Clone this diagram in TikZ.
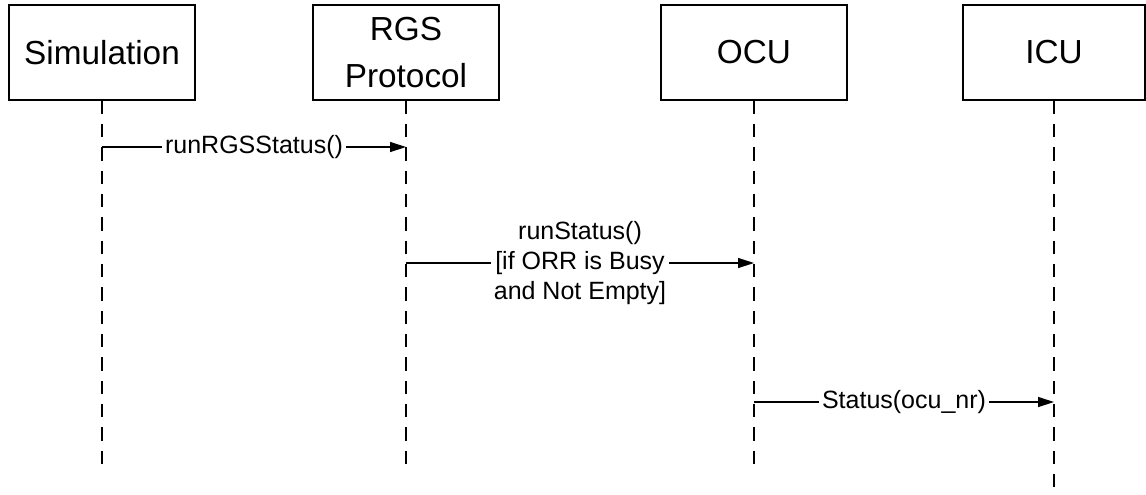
\documentclass[tikz,border=0pt]{standalone}
\usepackage{fontspec}
\setmainfont{Liberation Sans}
\usetikzlibrary{arrows.meta, positioning, calc}

\begin{document}
\begin{tikzpicture}[x=0.75pt, y=-0.75pt,
    obj/.style={draw, line width=1.2pt, minimum width=139.5pt, minimum height=71.25pt,
        inner sep=0pt, align=center, font=\fontsize{25}{35}\selectfont},
    life/.style={line width=1.2pt, dash pattern=on 10pt off 7.5pt},
    msg/.style={line width=1pt, -{Triangle[length=12pt,width=7.5pt]}},
    lbl/.style={fill=white, inner sep=2pt, align=center, font=\fontsize{18.75}{22.5}\selectfont}]
\useasboundingbox (0,0) rectangle (1146,494);

% Objects
\node[obj] (sim) at (102,52.5) {Simulation};
\node[obj] (rgs) at (406,52.5) {RGS\\Protocol};
\node[obj] (ocu) at (754,52.5) {OCU};
\node[obj, minimum width=136.5pt] (icu) at (1054,52.5) {ICU};

% Lifelines
\foreach \n/\e in {sim/473, rgs/473, ocu/473, icu/500} {
    \draw[life] (\n.south) -- (\n.south |- 0,\e);
}

% Message points
\coordinate (s1) at (sim.south |- 0,147);
\coordinate (r1) at (rgs.south |- 0,147);
\coordinate (r2) at (rgs.south |- 0,263);
\coordinate (o2) at (ocu.south |- 0,263);
\coordinate (o3) at (ocu.south |- 0,402);
\coordinate (i3) at (icu.south |- 0,402);

% Messages
\draw[msg] (s1) -- node[lbl] {runRGSStatus()} (r1);
\draw[msg] (r2) -- node[lbl] {runStatus()\\{[}if ORR is Busy\\and Not Empty{]}} (o2);
\draw[msg] (o3) -- node[lbl] {Status(ocu\_nr)} (i3);
\end{tikzpicture}
\end{document}
